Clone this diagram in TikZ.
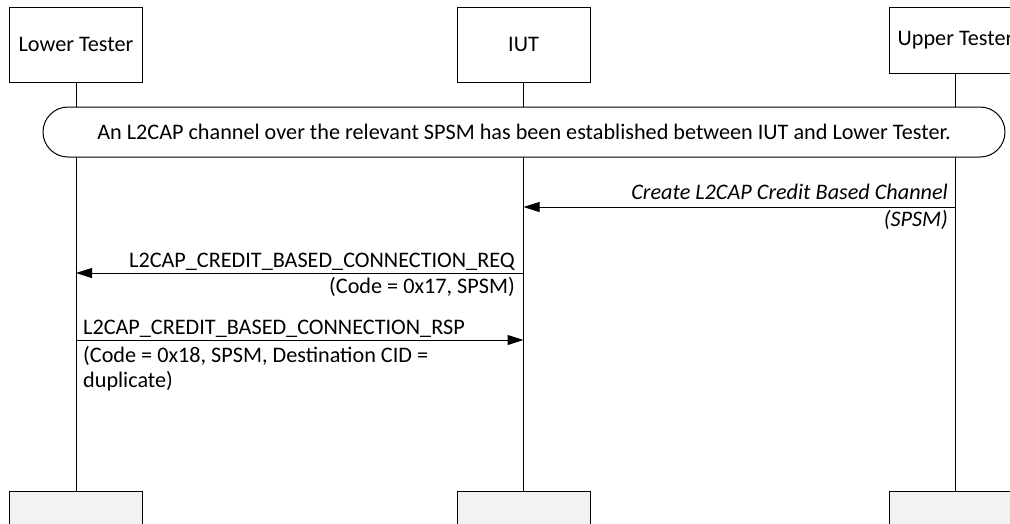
\documentclass[tikz,border=0pt]{standalone}
\usepackage{fontspec}
\setmainfont{Carlito}
\usetikzlibrary{arrows.meta}
\definecolor{endgray}{HTML}{F2F2F2}
\begin{document}
\begin{tikzpicture}[x=1pt,y=-1pt,
  every node/.style={font=\fontsize{22.2}{25}\selectfont},
  actor/.style={draw, line width=1pt, fill=white, minimum width=133pt, minimum height=75pt, inner sep=0pt},
  endbox/.style={draw, line width=1pt, fill=endgray, minimum width=133pt, minimum height=60pt, anchor=north},
  lifeline/.style={line width=1pt},
  msg/.style={line width=1pt, -{Triangle[length=16pt,width=10pt]}},
  lbl/.style={inner sep=0pt},
  ilbl/.style={inner sep=0pt, font=\fontsize{22.2}{25}\selectfont\itshape},
  cond/.style={draw, line width=1pt, fill=white, rounded corners=25pt, minimum width=962pt, minimum height=50pt, inner sep=0pt}]
\useasboundingbox (0,0) rectangle (1010,523);
\clip (0,0) rectangle (1010,523);
% actors
\node[actor] (lt) at (76,44.5) {Lower Tester};
\node[actor] (iut) at (523.5,44.5) {IUT};
\node[actor, minimum height=66pt] (ut) at (955.5,40) {Upper Tester};
\node[endbox] (ltb) at (76,491) {};
\node[endbox] (iutb) at (523.5,491) {};
\node[endbox] (utb) at (955.5,491) {};
% lifelines
\draw[lifeline] (lt.south) -- (ltb.north);
\draw[lifeline] (iut.south) -- (iutb.north);
\draw[lifeline] (ut.south) -- (utb.north);
% precondition
\node[cond] (pre) at (524,132) {An L2CAP channel over the relevant SPSM has been established between IUT and Lower Tester.};
% message 1
\coordinate (m1s) at (955.5,207);
\coordinate (m1e) at (523.5,207);
\draw[msg] (m1s) -- (m1e);
\node[ilbl, anchor=base east] (m1a) at (948,199) {Create L2CAP Credit Based Channel};
\node[ilbl, anchor=base east] (m1b) at (948,226) {(SPSM)};
% message 2
\coordinate (m2s) at (523.5,273);
\coordinate (m2e) at (76,273);
\draw[msg] (m2s) -- (m2e);
\node[lbl, anchor=base east] (m2a) at (515,267) {L2CAP\_CREDIT\_BASED\_CONNECTION\_REQ};
\node[lbl, anchor=base east] (m2b) at (515,293) {(Code = 0x17, SPSM)};
% message 3
\coordinate (m3s) at (76,340);
\coordinate (m3e) at (523.5,340);
\draw[msg] (m3s) -- (m3e);
\node[lbl, anchor=base west] (m3a) at (83,334) {L2CAP\_CREDIT\_BASED\_CONNECTION\_RSP};
\node[lbl, anchor=base west] (m3b) at (83,362) {(Code = 0x18, SPSM, Destination CID =};
\node[lbl, anchor=base west] (m3c) at (83,387) {duplicate)};
\end{tikzpicture}
\end{document}
